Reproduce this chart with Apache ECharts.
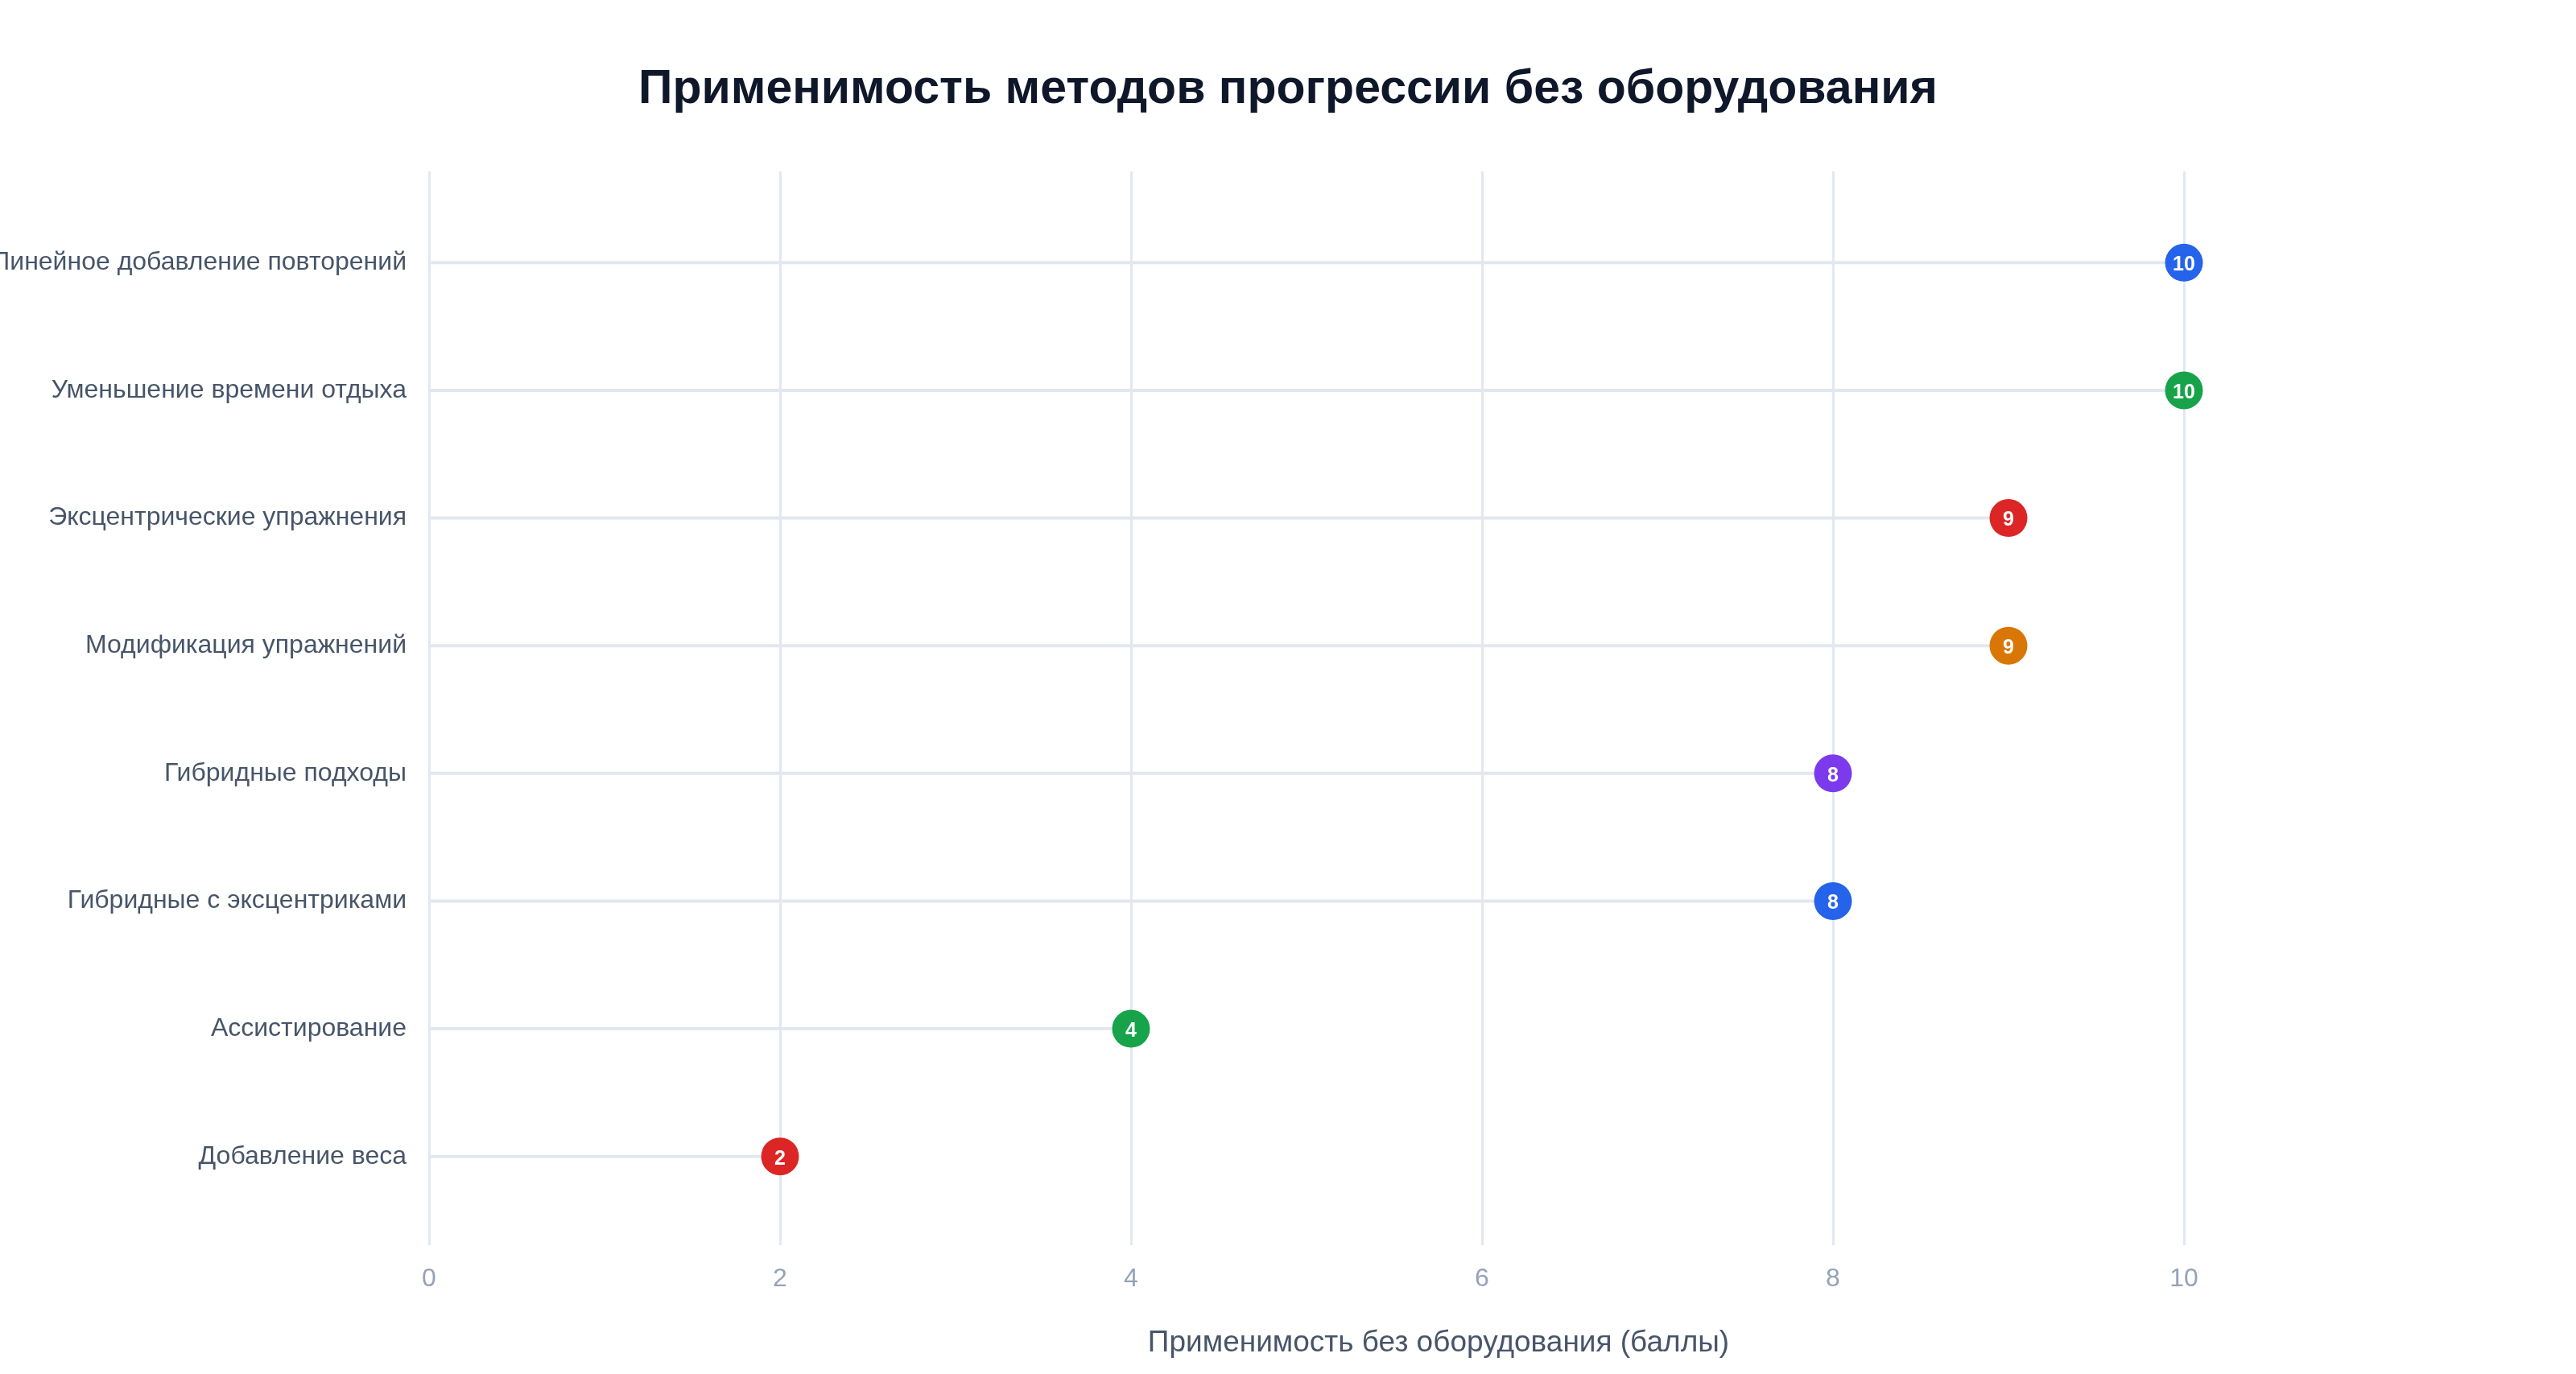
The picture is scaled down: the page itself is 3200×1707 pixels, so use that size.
<!DOCTYPE html>
<html>
<head>
<meta charset="utf-8">
<script src="https://cdn.jsdelivr.net/npm/echarts@6/dist/echarts.min.js"></script>
<style>
  html, body { margin: 0; padding: 0; background: #ffffff; }
  #main { width: 3200px; height: 1707px; }
</style>
</head>
<body>
<div id="main"></div>
<script>
var methods = [
    'Линейное добавление повторений',
    'Уменьшение времени отдыха',
    'Эксцентрические упражнения',
    'Модификация упражнений',
    'Гибридные подходы',
    'Гибридные с эксцентриками',
    'Ассистирование',
    'Добавление веса'
];
var scores = [10, 10, 9, 9, 8, 8, 4, 2];
var dotColors = ['#2563eb', '#16a34a', '#dc2626', '#d97706', '#7c3aed', '#2563eb', '#16a34a', '#dc2626'];
var xTicks = [0, 2, 4, 6, 8, 10];

var fontFamily = '"Liberation Sans", Arial, Helvetica, sans-serif';
var myChart = echarts.init(document.getElementById('main'));

var option = {
    backgroundColor: '#ffffff',
    textStyle: { fontFamily: fontFamily },
    title: {
        text: 'Применимость методов прогрессии без оборудования',
        left: 'center',
        top: 77,
        textStyle: {
            fontFamily: fontFamily,
            fontSize: 59,
            fontWeight: 'bold',
            color: '#0f172a'
        }
    },
    grid: [
        // data grid (category bands)
        { left: 533, right: 487, top: 247, height: 1269, outerBoundsMode: 'none', containLabel: false },
        // vertical split lines and tick labels
        { left: 533, right: 487, top: 213, height: 1334, outerBoundsMode: 'none', containLabel: false },
        // axis title only, the plot area runs a bit past the last tick
        { left: 533, right: 159, top: 213, height: 1334, outerBoundsMode: 'none', containLabel: false }
    ],
    xAxis: [
        {
            gridIndex: 0,
            type: 'value',
            min: xTicks[0],
            max: xTicks[xTicks.length - 1],
            show: false
        },
        {
            gridIndex: 1,
            type: 'value',
            min: xTicks[0],
            max: xTicks[xTicks.length - 1],
            interval: xTicks[1] - xTicks[0],
            axisLine: { show: false },
            axisTick: { show: false },
            axisLabel: {
                fontFamily: fontFamily,
                fontSize: 32,
                color: '#94a3b8',
                margin: 26
            },
            splitLine: {
                show: true,
                lineStyle: { color: '#e2e8f0', width: 3 }
            }
        },
        {
            gridIndex: 2,
            type: 'value',
            min: 0,
            max: 1,
            name: 'Применимость без оборудования (баллы)',
            nameLocation: 'middle',
            nameGap: 103,
            nameTextStyle: {
                fontFamily: fontFamily,
                fontSize: 37,
                color: '#475569'
            },
            axisLine: { show: false },
            axisTick: { show: false },
            axisLabel: { show: false },
            splitLine: { show: false }
        }
    ],
    yAxis: [
        {
            gridIndex: 0,
            type: 'category',
            data: methods,
            inverse: true,
            axisLine: { show: false },
            axisTick: { show: false },
            splitLine: { show: false },
            axisLabel: {
                fontFamily: fontFamily,
                fontSize: 32,
                color: '#475569',
                margin: 28
            }
        },
        { gridIndex: 1, type: 'value', min: 0, max: 1, show: false },
        { gridIndex: 2, type: 'value', min: 0, max: 1, show: false }
    ],
    series: [
        {
            name: 'stem',
            type: 'bar',
            xAxisIndex: 0,
            yAxisIndex: 0,
            data: scores,
            barWidth: 4,
            silent: true,
            itemStyle: { color: '#e2e8f0' },
            z: 2
        },
        {
            name: 'score',
            type: 'scatter',
            xAxisIndex: 0,
            yAxisIndex: 0,
            data: scores.map(function (v, i) { return [v, i]; }),
            symbol: 'circle',
            symbolSize: 47,
            itemStyle: {
                color: function (p) { return dotColors[p.dataIndex]; },
                opacity: 1
            },
            label: {
                show: true,
                position: 'inside',
                offset: [0, 3],
                formatter: function (p) { return p.value[0]; },
                fontFamily: fontFamily,
                fontSize: 25,
                fontWeight: 'bold',
                color: '#ffffff'
            },
            z: 3
        }
    ]
};

myChart.setOption(option);
</script>
</body>
</html>
